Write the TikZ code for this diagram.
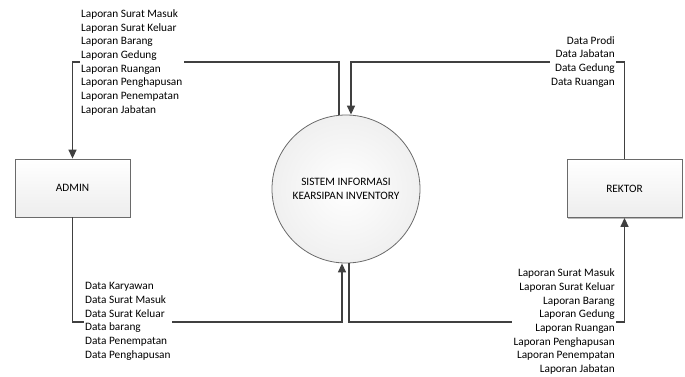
\documentclass[tikz,border=0pt]{standalone}
\usepackage{fontspec}
\setmainfont{Carlito}
\usetikzlibrary{arrows.meta,shadows}
\definecolor{linec}{HTML}{404040}
\definecolor{boxline}{HTML}{6A6A6A}
\tikzset{
  txt/.style={font=\fontsize{11.3}{13.7}\selectfont, text=black},
  entity/.style={txt, draw=boxline, line width=0.8pt, minimum width=115pt, minimum height=58pt,
    top color=white, bottom color=black!7, drop shadow={shadow xshift=1.2pt, shadow yshift=-1.2pt, fill=black!45, opacity=0.6}},
  proc/.style={txt, circle, draw=boxline, line width=0.8pt, minimum size=148pt, align=center,
    inner color=white, outer color=black!6},
  flow/.style={draw=linec, line width=1.4pt, -{Triangle[width=8pt,length=9pt]}},
  lbl/.style={txt, fill=white, inner xsep=1.5pt, inner ysep=0pt},
}
\begin{document}
\begin{tikzpicture}[x=1pt,y=-1pt]
\useasboundingbox (0,0) rectangle (685,376);
\node[entity] (admin) at (72.5,188) {ADMIN};
\node[entity] (rektor) at (624.5,188.5) {REKTOR};
\node[proc] (sys) at (346,189) {SISTEM INFORMASI\\KEARSIPAN INVENTORY};
% connectors
\draw[flow] ([xshift=-7pt]sys.north) |- (admin.north |- 0,62) -- (admin.north);
\draw[flow] (rektor.north) -- (rektor.north |- 0,62) -| ([xshift=5pt]sys.north);
\draw[flow] (admin.south) -- (admin.south |- 0,322) -| ([xshift=-4pt]sys.south);
\draw[flow] ([xshift=3pt]sys.south) |- (rektor.south |- 0,322) -- (rektor.south);
% labels
\node[lbl, anchor=west, align=left] (ltl) at (79.5,62.3) {Laporan Surat Masuk\\Laporan Surat Keluar\\Laporan Barang\\Laporan Gedung\\Laporan Ruangan\\Laporan Penghapusan\\Laporan Penempatan\\Laporan Jabatan};
\node[lbl, anchor=east, align=right] (ltr) at (616.5,61.7) {Data Prodi\\Data Jabatan\\Data Gedung\\Data Ruangan};
\node[lbl, anchor=west, align=left] (lbl) at (83.5,321.2) {Data Karyawan\\Data Surat Masuk\\Data Surat Keluar\\Data barang\\Data Penempatan\\Data Penghapusan};
\node[lbl, anchor=east, align=right] (lbr) at (616.5,321.7) {Laporan Surat Masuk\\Laporan Surat Keluar\\Laporan Barang\\Laporan Gedung\\Laporan Ruangan\\Laporan Penghapusan\\Laporan Penempatan\\Laporan Jabatan};
\end{tikzpicture}
\end{document}
